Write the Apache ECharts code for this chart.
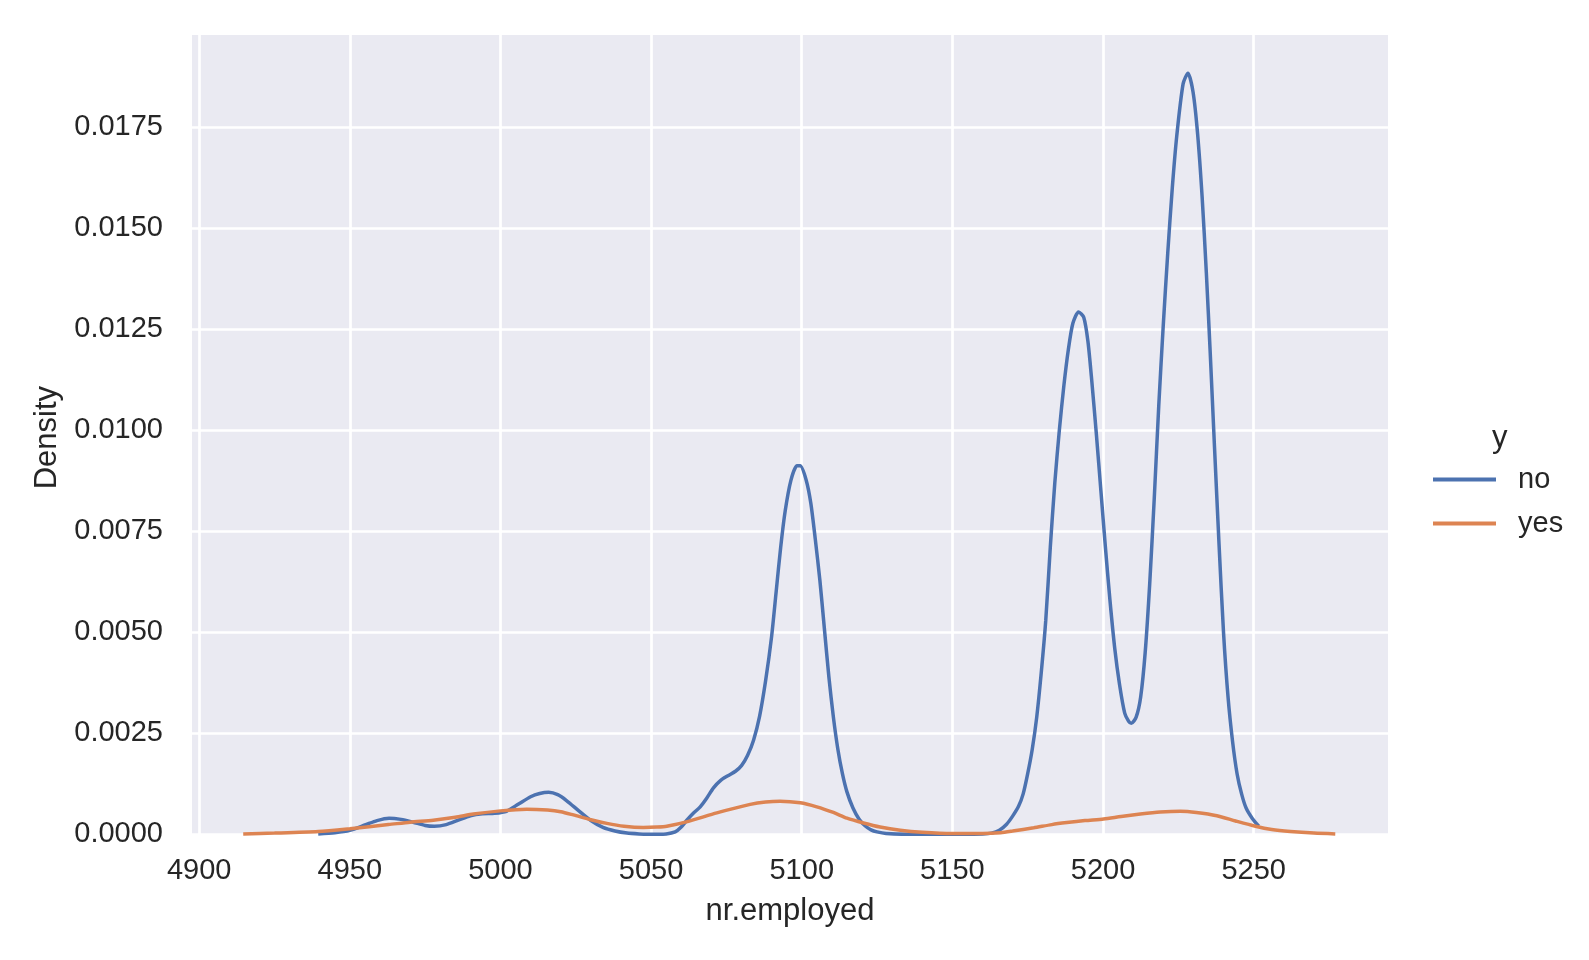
<!DOCTYPE html>
<html><head><meta charset="utf-8">
<script src="https://cdn.jsdelivr.net/npm/echarts@6/dist/echarts.min.js"></script>
<style>html,body{margin:0;padding:0;background:#fff}#c{width:1589px;height:960px}</style>
</head><body><div id="c"></div>
<script>
const seriesNames = ['no', 'yes'];
const seriesColors = ['#4C72B0', '#DD8452'];
const legendTitle = 'y';
const xAxisName = 'nr.employed';
const yAxisName = 'Density';
const xRange = [4897.6, 5294.6];
const yRange = [0, 0.019785];
const xTickStep = 50;
const yTickStep = 0.0025;

// "no" KDE curve
const noX = [4939.5,4945,4950,4955,4959,4963,4967,4971,4975,4978,4982,4986,4990,4994,4998,5002,5006,5010,5013,5016,5019,5022,5026,5030,5034,5038,5042,5046,5050,5055,5058,5060,5062,5064,5066.3,5068.5,5070.7,5073,5075.5,5078,5080,5082,5084,5086,5088,5090,5091.5,5093,5094.5,5096.4,5098.4,5099.5,5101.5,5103,5104.5,5106,5107.5,5109,5110.5,5112,5113.5,5115,5117,5119,5121,5123,5125,5128,5135,5150,5160,5163,5165.6,5168,5170,5172,5173.5,5175,5176.5,5178,5179.5,5181,5182.5,5184,5185.5,5187,5188.5,5190,5191.9,5193.6,5195,5196.3,5197.8,5199.3,5200.8,5202.3,5203.9,5205.5,5207.2,5208.5,5209.4,5211,5212.5,5214,5215.5,5217,5218.5,5220,5221.5,5223,5224.5,5226.6,5228.2,5229.9,5231.4,5232.9,5234.3,5235.6,5237,5238.5,5240,5241.5,5243,5244.5,5246,5247.5,5249.5,5251.7];
const noY = [0.00001,0.00004,0.0001,0.00023,0.00034,0.0004,0.00037,0.0003,0.00022,0.0002,0.00024,0.00035,0.00046,0.00051,0.00052,0.00057,0.00075,0.00093,0.00101,0.00104,0.00098,0.00083,0.00058,0.00034,0.00017,0.00008,0.00003,0.00001,0,0.00001,0.00006,0.00018,0.00036,0.00052,0.00068,0.0009,0.00115,0.00133,0.00145,0.00156,0.0017,0.00195,0.00233,0.00292,0.0038,0.0049,0.006,0.0071,0.008,0.00876,0.00912,0.00912,0.00876,0.0082,0.0073,0.0063,0.0051,0.0039,0.0029,0.0021,0.0015,0.00105,0.00065,0.00038,0.00021,0.00011,0.00006,0.00002,0,0,0.00001,0.00003,0.0001,0.00025,0.00045,0.0007,0.001,0.0015,0.0021,0.0029,0.004,0.0053,0.0071,0.0087,0.01,0.0111,0.012,0.01265,0.01293,0.0128,0.0122,0.0112,0.0099,0.0085,0.0071,0.0058,0.0046,0.0037,0.003,0.0028,0.00275,0.0029,0.0034,0.0045,0.0062,0.0083,0.0106,0.0126,0.0144,0.016,0.0173,0.01858,0.01884,0.01837,0.01734,0.01578,0.0139,0.0119,0.0096,0.0072,0.005,0.0034,0.0023,0.0015,0.001,0.00065,0.0004,0.0002];

// "yes" KDE curve
const yesX = [4914.6,4925,4939.5,4950,4962.8,4970,4977.7,4985,4991,5000,5008.7,5015.6,5020,5024.2,5030,5035.3,5041,5047.4,5052,5055.2,5062.4,5071.8,5082.9,5088,5092.8,5099.5,5105,5110.5,5115,5120.5,5126,5132.7,5140,5150,5160,5166,5170,5177,5183,5188,5194,5200.2,5206,5212.4,5219,5225.7,5231,5237.8,5244,5250.6,5256,5262.2,5270,5277.1];
const yesY = [0.00001,0.00003,0.00007,0.00014,0.00024,0.0003,0.00035,0.00042,0.0005,0.00058,0.00062,0.0006,0.00056,0.00048,0.00036,0.00027,0.0002,0.00017,0.00018,0.0002,0.00032,0.00053,0.00074,0.0008,0.00082,0.00078,0.00068,0.00054,0.0004,0.00028,0.00018,0.0001,0.00005,0.00002,0.00002,0.00004,0.00008,0.00016,0.00024,0.00029,0.00034,0.00038,0.00044,0.0005,0.00055,0.00057,0.00054,0.00046,0.00033,0.0002,0.00012,0.00007,0.00003,0.00001];

const zip = (xs, ys) => xs.map((x, i) => [x, ys[i]]);
const FONT = '"Liberation Sans", Arial, sans-serif';
const TEXT = '#262626';

const chart = echarts.init(document.getElementById('c'), null, {renderer: 'canvas'});
chart.setOption({
  animation: false,
  backgroundColor: '#ffffff',
  grid: {
    left: 192, right: 201, top: 35, bottom: 125.7,
    show: true, backgroundColor: '#EAEAF2', borderWidth: 0,
    containLabel: false, outerBoundsMode: 'none'
  },
  legend: {
    orient: 'vertical', left: 1433, top: 465, padding: 0,
    itemWidth: 63, itemHeight: 4, itemGap: 15, icon: 'rect',
    data: seriesNames,
    textStyle: {fontFamily: FONT, fontSize: 29, color: TEXT, padding: [0, 0, 0, 17]}
  },
  graphic: [{
    type: 'text', left: 1492, top: 423,
    style: {text: legendTitle, fontFamily: FONT, fontSize: 31, fill: TEXT}
  }],
  xAxis: {
    type: 'value', min: xRange[0], max: xRange[1],
    minInterval: xTickStep, maxInterval: xTickStep, splitNumber: 8,
    name: xAxisName, nameLocation: 'middle', nameGap: 62,
    nameTextStyle: {fontFamily: FONT, fontSize: 31, color: TEXT},
    axisLine: {show: false}, axisTick: {show: false},
    axisLabel: {fontFamily: FONT, fontSize: 29, color: TEXT, margin: 22,
      showMinLabel: false, showMaxLabel: false,
      formatter: v => (Math.abs(v % xTickStep) < 1e-6 ? String(v) : '')},
    splitLine: {show: true, showMinLine: false, showMaxLine: false,
      lineStyle: {color: '#ffffff', width: 2.7}}
  },
  yAxis: {
    type: 'value', min: yRange[0], max: yRange[1], interval: yTickStep,
    name: yAxisName, nameLocation: 'middle', nameGap: 125, nameRotate: 90,
    nameTextStyle: {fontFamily: FONT, fontSize: 31, color: TEXT, padding: [0, 6, 0, 0]},
    axisLine: {show: false}, axisTick: {show: false},
    axisLabel: {fontFamily: FONT, fontSize: 29, color: TEXT, margin: 29,
      padding: [4, 0, 0, 0],
      showMaxLabel: false, formatter: v => v.toFixed(4)},
    splitLine: {show: true, showMaxLine: false,
      lineStyle: {color: '#ffffff', width: 2.7}}
  },
  series: seriesNames.map((name, i) => ({
    name, type: 'line',
    data: zip(i === 0 ? noX : yesX, i === 0 ? noY : yesY),
    symbol: 'none', smooth: 0.25,
    color: seriesColors[i],
    lineStyle: {color: seriesColors[i], width: 3.5},
    itemStyle: {color: seriesColors[i]},
    z: 2 + i
  }))
});
</script>
</body></html>
